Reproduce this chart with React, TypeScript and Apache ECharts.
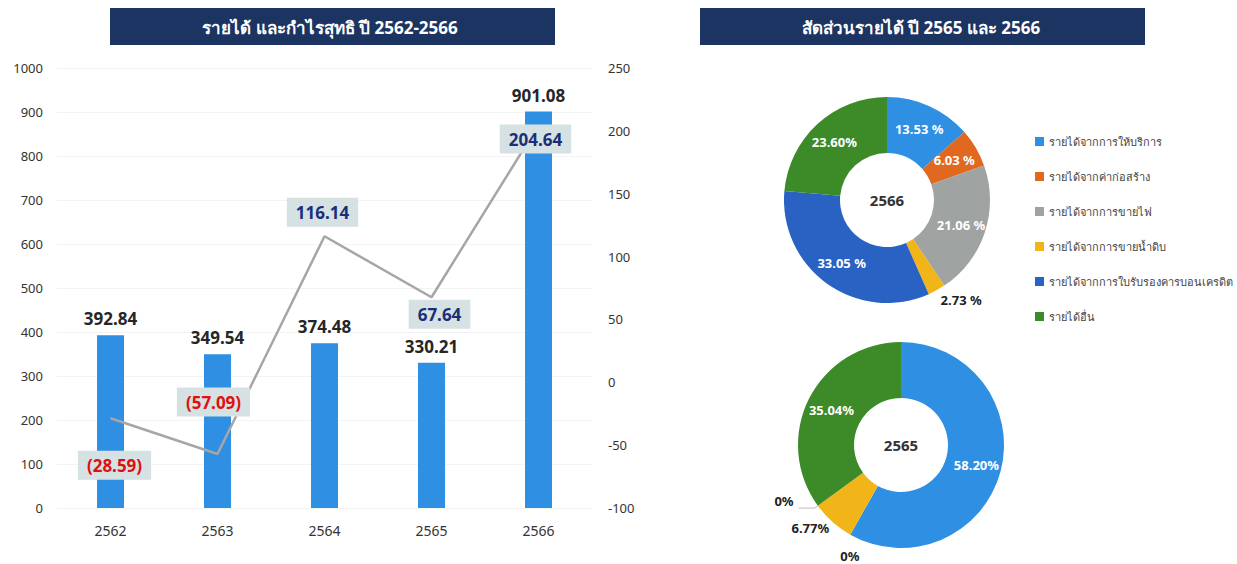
import React, { useEffect, useRef } from "react";
import * as echarts from "echarts";

const years = ["2562", "2563", "2564", "2565", "2566"];
const revenue = [392.84, 349.54, 374.48, 330.21, 901.08];
const netProfit = [-28.59, -57.09, 116.14, 67.64, 204.64];
const profitLabels = ["(28.59)", "(57.09)", "116.14", "67.64", "204.64"];

const revenueTypes = [
  "รายได้จากการให้บริการ",
  "รายได้จากค่าก่อสร้าง",
  "รายได้จากการขายไฟ",
  "รายได้จากการขายน้ำดิบ",
  "รายได้จากการใบรับรองคารบอนเครดิต",
  "รายได้อื่น",
];
const typeColors = ["#2e8fe3", "#e0691f", "#9fa3a1", "#f1b51a", "#2a62c4", "#3d8a28"];
const share2566 = [13.53, 6.03, 21.06, 2.73, 33.05, 23.6];
const share2566Labels = ["13.53 %", "6.03 %", "21.06 %", "2.73 %", "33.05 %", "23.60%"];
const share2565 = [58.2, 0, 0, 6.77, 0, 35.04];
const share2565Labels = ["58.20%", "0%", "0%", "6.77%", "0%", "35.04%"];

const FONT = "'Noto Sans', 'Open Sans', sans-serif";

export default function App() {
  const ref = useRef<HTMLDivElement>(null);
  useEffect(() => {
    document.body.style.margin = "0";
    const chart = echarts.init(ref.current!, null, { renderer: "svg" });

    const labelPos: any[] = [
      { position: "bottom", distance: 32, offset: [4, 0] },
      { position: "top", distance: 37, offset: [-4, 0] },
      { position: "top", distance: 9, offset: [-2, 0] },
      { position: "bottom", distance: 2, offset: [8, 0] },
      { position: "inside", offset: [-3, 14] },
    ];

    const pie2566Data = share2566.map((v, i) => ({
      name: revenueTypes[i],
      value: v,
      label:
        i === 3
          ? { position: "outside", color: "#222", offset: [-4, 5] }
          : { position: "inside", color: "#fff" },
      labelLine: { show: false, length: 6, length2: 0 },
    }));

    const outsideCfg: Record<number, any> = {
      1: { line: { show: false, length: 22, length2: 0 }, offset: [25, 2] },
      3: { line: { show: false, length: 8, length2: 0 }, offset: [7, 0] },
      4: { line: { show: true, length: 4, length2: 16, lineStyle: { color: "#bbb" } }, offset: [0, -7] },
    };

    const pie2565Data = share2565.map((v, i) => {
      const cfg = outsideCfg[i];
      return {
        name: revenueTypes[i],
        value: v,
        label: {
          show: i !== 2,
          position: cfg ? "outside" : "inside",
          color: cfg ? "#222" : "#fff",
          offset: cfg ? cfg.offset : [0, 0],
        },
        labelLine: cfg ? cfg.line : { show: false },
      };
    });

    chart.setOption({
      animation: false,
      textStyle: { fontFamily: FONT },
      graphic: [
        { type: "rect", shape: { x: 110, y: 8, width: 445, height: 37 }, style: { fill: "#1c3461" } },
        {
          type: "text",
          x: 330,
          y: 27,
          style: {
            text: "รายได้ และกำไรสุทธิ ปี 2562-2566",
            fill: "#fff",
            font: `bold 17px ${FONT}`,
            textAlign: "center",
            textVerticalAlign: "middle",
          },
        },
        { type: "rect", shape: { x: 700, y: 8, width: 445, height: 37 }, style: { fill: "#1c3461" } },
        {
          type: "text",
          x: 921,
          y: 27,
          style: {
            text: "สัดส่วนรายได้ ปี 2565 และ 2566",
            fill: "#fff",
            font: `bold 17px ${FONT}`,
            textAlign: "center",
            textVerticalAlign: "middle",
          },
        },
        {
          type: "text",
          x: 887,
          y: 200,
          style: { text: "2566", fill: "#333", font: `bold 15px ${FONT}`, textAlign: "center", textVerticalAlign: "middle" },
        },
        {
          type: "text",
          x: 901,
          y: 445,
          style: { text: "2565", fill: "#333", font: `bold 15px ${FONT}`, textAlign: "center", textVerticalAlign: "middle" },
        },
      ],
      legend: {
        data: revenueTypes,
        orient: "vertical",
        left: 1030,
        top: 131,
        itemGap: 24,
        itemWidth: 9,
        itemHeight: 9,
        icon: "rect",
        textStyle: { fontSize: 11, color: "#444", fontFamily: FONT },
      },
      grid: { left: 57, right: 645, top: 68, bottom: 56 },
      xAxis: {
        type: "category",
        data: years,
        axisLine: { show: false },
        axisTick: { show: false },
        axisLabel: { color: "#333", fontSize: 14, margin: 15 },
      },
      yAxis: [
        {
          type: "value",
          min: 0,
          max: 1000,
          interval: 100,
          axisLabel: { color: "#333", fontSize: 13, margin: 14, formatter: (v: number) => String(v) },
          splitLine: { lineStyle: { color: "#f3f3f3" } },
        },
        {
          type: "value",
          min: -100,
          max: 250,
          interval: 50,
          position: "right",
          axisLabel: { color: "#333", fontSize: 13, margin: 16, formatter: (v: number) => String(v) },
          splitLine: { show: false },
        },
      ],
      series: [
        {
          type: "bar",
          data: revenue,
          barWidth: 27,
          itemStyle: { color: "#2e8fe3" },
          label: {
            show: true,
            position: "top",
            distance: 8,
            fontSize: 17,
            fontWeight: "bold",
            color: "#262626",
            formatter: (p: any) => p.value.toFixed(2),
          },
        },
        {
          type: "line",
          yAxisIndex: 1,
          data: netProfit.map((v, i) => ({
            value: v,
            label: {
              show: true,
              ...labelPos[i],
              formatter: profitLabels[i],
              color: v < 0 ? "#e01010" : "#1b2f78",
              fontSize: 17,
              fontWeight: "bold",
              backgroundColor: "#d5e1e2",
              padding: [6, 9],
            },
          })),
          symbol: "circle",
          symbolSize: 1,
          showSymbol: true,
          itemStyle: { color: "rgba(0,0,0,0)" },
          lineStyle: { color: "#a6a6a6", width: 2.5 },
          z: 3,
        },
        {
          type: "pie",
          name: "2566",
          center: [887, 200],
          radius: [47, 103],
          startAngle: 90,
          clockwise: true,
          avoidLabelOverlap: false,
          data: pie2566Data,
          color: typeColors,
          label: {
            fontSize: 13,
            fontWeight: "bold",
            formatter: (p: any) => share2566Labels[p.dataIndex],
          },
        },
        {
          type: "pie",
          name: "2565",
          center: [901, 445],
          radius: [47, 103],
          startAngle: 90,
          clockwise: true,
          avoidLabelOverlap: false,
          data: pie2565Data,
          color: typeColors,
          label: {
            fontSize: 13,
            fontWeight: "bold",
            formatter: (p: any) => share2565Labels[p.dataIndex],
          },
        },
      ],
    });
    return () => chart.dispose();
  }, []);
  return <div ref={ref} style={{ width: 1237, height: 564 }} />;
}
